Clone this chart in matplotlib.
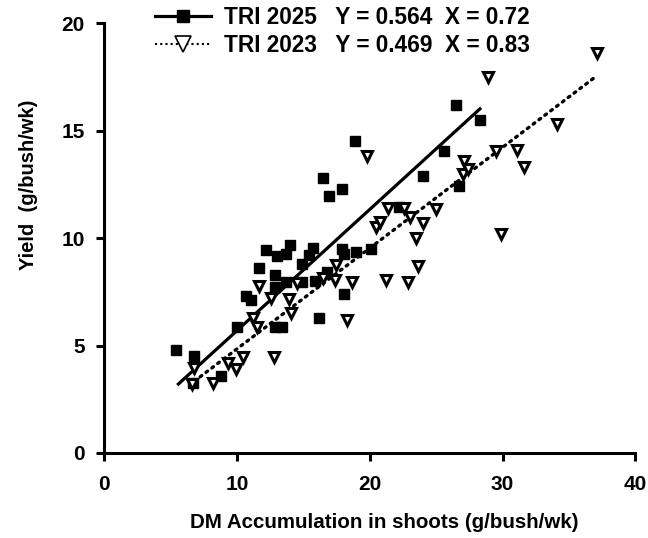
import matplotlib.pyplot as plt
import numpy as np

plt.rcParams['font.family'] = ['Liberation Sans', 'DejaVu Sans']
plt.rcParams['font.weight'] = 'bold'

# TRI 2025 (squares)
x_2025 = [5.4, 6.8, 6.7, 8.8, 10.0, 10.7, 11.1, 11.7, 12.2, 13.0, 13.7, 14.0, 12.9,
          12.9, 13.7, 14.9, 14.9, 12.9, 13.4, 15.4, 15.7, 15.9, 16.8, 16.2, 16.5,
          16.9, 17.9, 18.9, 17.9, 18.1, 19.0, 20.1, 18.1, 22.2, 24.0, 25.6, 26.5,
          28.3, 26.7]
y_2025 = [4.8, 4.5, 3.25, 3.6, 5.85, 7.3, 7.1, 8.6, 9.45, 9.15, 9.25, 9.7, 8.3,
          7.7, 7.95, 8.8, 7.95, 5.85, 5.85, 9.2, 9.55, 8.0, 8.4, 6.3, 12.8,
          11.95, 12.3, 14.5, 9.5, 9.25, 9.35, 9.5, 7.4, 11.45, 12.9, 14.05, 16.2,
          15.5, 12.4]

# TRI 2023 (open triangles)
x_2023 = [6.6, 6.8, 8.2, 9.3, 9.9, 10.5, 11.5, 11.2, 11.7, 12.6, 12.8, 13.9, 14.1,
          14.5, 16.5, 17.4, 17.5, 18.7, 18.3, 19.8, 20.5, 20.8, 21.2, 21.4, 22.6,
          23.0, 23.5, 23.6, 22.9, 24.0, 25.0, 27.0, 27.4, 27.1, 28.9, 29.5, 31.1,
          31.6, 29.9, 34.1, 37.1]
y_2023 = [3.2, 3.95, 3.25, 4.2, 3.9, 4.45, 5.85, 6.3, 7.75, 7.2, 4.45, 7.15, 6.5,
          7.9, 8.15, 8.05, 8.75, 7.95, 6.2, 13.8, 10.5, 10.75, 8.05, 11.4, 11.4,
          11.0, 10.0, 8.7, 7.95, 10.7, 11.35, 13.0, 13.2, 13.6, 17.5, 14.05, 14.1,
          13.3, 10.2, 15.3, 18.6]

# regression lines: slope, intercept, x range
fit_2025 = (0.564, 0.05, 5.6, 28.3)
fit_2023 = (0.469, 0.15, 6.8, 37.1)

label_2025 = 'TRI 2025   Y = 0.564  X = 0.72'
label_2023 = 'TRI 2023   Y = 0.469  X = 0.83'

fig = plt.figure(figsize=(6.48, 5.38), dpi=100)
ax = fig.add_axes([0.1605, 0.158, 0.82, 0.799])

# lines
xs = np.array(fit_2025[2:])
ax.plot(xs, fit_2025[0] * xs + fit_2025[1], color='black', lw=2.3)
xs = np.array(fit_2023[2:])
ax.plot(xs, fit_2023[0] * xs + fit_2023[1], color='black', lw=2.4,
        linestyle=(0, (0.6, 1.6)), dash_capstyle='round')

# points
ax.plot(x_2025, y_2025, 's', color='black', ms=7.5, mec='black')
ax.plot(x_2023, y_2023, 'v', mfc='white', mec='black', mew=2.2, ms=7)

# legend handles
h1, = ax.plot([], [], color='black', lw=2.3, marker='s', ms=8, label=label_2025)
h2, = ax.plot([], [], color='black', lw=1.5, linestyle=(0, (1, 1.5)), marker='v',
              mfc='white', mec='black', mew=1.2, ms=11, label=label_2023)
leg = ax.legend(handles=[h1, h2], loc='upper left', bbox_to_anchor=(0.078, 1.062),
                frameon=False, fontsize=16.3, handlelength=2.5, handletextpad=0.55,
                labelspacing=0.22, borderaxespad=0)

ax.set_xlim(0, 40)
ax.set_ylim(0, 20)
ax.set_xticks([0, 10, 20, 30, 40])
ax.set_yticks([0, 5, 10, 15, 20])
ax.spines['top'].set_visible(False)
ax.spines['right'].set_visible(False)
for s in ['left', 'bottom']:
    ax.spines[s].set_linewidth(2.2)
ax.tick_params(direction='out', length=6, width=2.2, labelsize=15)
ax.tick_params(axis='x', pad=10)
ax.tick_params(axis='y', pad=8)

ax.set_xlabel('DM Accumulation in shoots (g/bush/wk)', fontsize=14.8,
              fontweight='bold')
ax.set_ylabel('Yield  (g/bush/wk)', fontsize=14.5, fontweight='bold')
ax.xaxis.set_label_coords(0.527, -0.14)
ax.yaxis.set_label_coords(-0.124, 0.623)

plt.savefig('out.png', dpi=100)
plt.close()
